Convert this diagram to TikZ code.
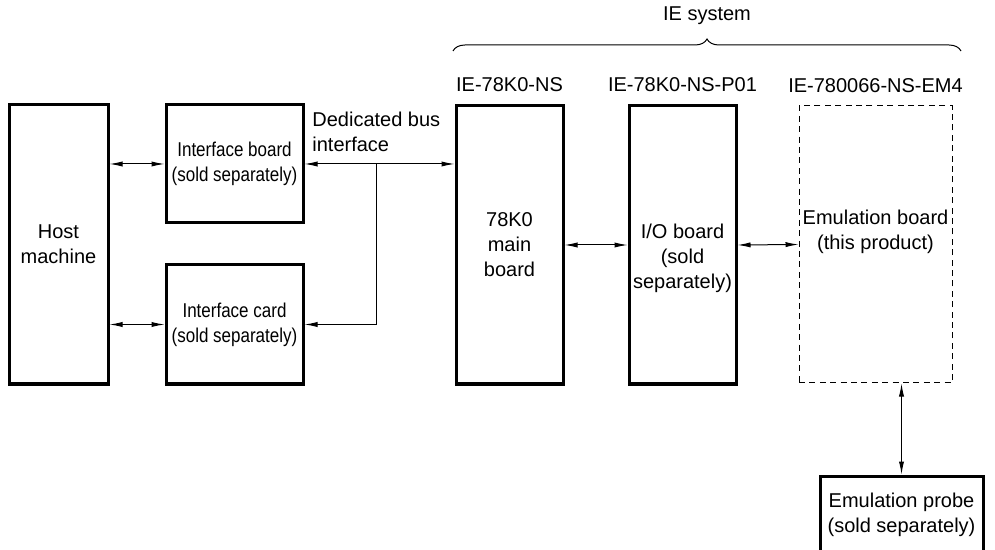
\documentclass[tikz,border=0pt]{standalone}
\usepackage{fontspec}
\setmainfont{Liberation Sans}
\newfontfamily\narrowfont[FakeStretch=0.85]{Liberation Sans}
\usepackage{tikz}
\usetikzlibrary{positioning, arrows.meta, calc, decorations.pathreplacing}

\newcommand{\diagsize}{\fontsize{10pt}{12.5pt}\selectfont}

\begin{document}
\begin{tikzpicture}[x=0.5pt, y=-0.5pt]

	% Styles
	\tikzset{
		board/.style={
			rectangle, draw, line width=1.5pt, inner sep=0pt,
			align=center, font=\diagsize
		},
		narrowboard/.style={
			board, font=\narrowfont\diagsize,
			minimum width=68.5pt, minimum height=59pt
		},
		tallboard/.style={
			board, minimum width=53.5pt, minimum height=139pt
		},
		dashboard/.style={
			rectangle, draw, line width=0.5pt, dash pattern=on 3pt off 2.2pt,
			inner sep=0pt, minimum width=76.5pt, minimum height=138.5pt
		},
		boxtext/.style={
			draw=none, inner sep=0pt, align=center, font=\diagsize
		},
		labelbox/.style={
			draw=none, fill=none, inner sep=0pt, align=center, font=\diagsize
		},
		arrowboth/.style={line width=0.5pt, {Latex[length=6.5pt,width=2.6pt]}-{Latex[length=6.5pt,width=2.6pt]}},
		arrowone/.style={line width=0.5pt, -{Latex[length=6.5pt,width=2.6pt]}}
	}

	\useasboundingbox (0,0) rectangle (995,550);

	% Host side
	\node (host) [board, minimum width=49.5pt, minimum height=139.5pt] at (58.5,244.5) {Host\\machine};
	\node (ifboard) [narrowboard] at (234.5,164) {Interface board\\(sold separately)};
	\node (ifcard) [narrowboard, minimum height=59.5pt] at (234.5,324.5) {Interface card\\(sold separately)};

	% IE system boards
	\node (mainbd) [tallboard] at (509.5,245) {78K0\\main\\board};
	\node (iobd) [tallboard, label={[boxtext, yshift=-6.5pt]center:{I/O board\\(sold\\separately)}}] at (682.5,245) {};
	\node (emubd) [dashboard, label={[boxtext, yshift=6.2pt]center:{Emulation board\\(this product)}}] at (875.5,244.5) {};

	% Probe
	\node (probe) [board, minimum width=81.5pt, minimum height=62pt, label={[boxtext, yshift=11.5pt]center:{Emulation probe\\(sold separately)}}] at (901.5,538) {};

	% Board names
	\node (nsname) [labelbox, above=6pt of mainbd] {IE-78K0-NS};
	\node (ioname) [labelbox, above=6pt of iobd] {IE-78K0-NS-P01};
	\node (emuname) [labelbox, above=6pt of emubd] {IE-780066-NS-EM4};

	% IE system brace
	\draw[line width=0.5pt, decorate, decoration={brace, amplitude=6pt}] (453,51) -- (961,51);
	\node (iesys) [labelbox] at (707,16) {IE system};

	% Bus label
	\node (buslbl) [labelbox, align=left, anchor=south west] at (312,152) {Dedicated bus\\interface};

	% Host to interfaces
	\draw[arrowboth] (host.east |- ifboard.west) -- (ifboard.west);
	\draw[arrowboth] (host.east |- ifcard.west) -- (ifcard.west);

	% Dedicated bus
	\draw[arrowboth] (ifboard.east) -- (mainbd.west |- ifboard.east);
	\coordinate (bus) at ($(ifboard.east)!0.48!(mainbd.west |- ifboard.east)$);
	\draw[arrowone] (bus) |- (ifcard.east);

	% Board to board
	\draw[arrowboth] (mainbd.east) -- (iobd.west);
	\draw[arrowboth] (iobd.east) -- (emubd.west);
	\draw[arrowboth] (emubd.south -| probe.north) -- (probe.north);

\end{tikzpicture}
\end{document}
